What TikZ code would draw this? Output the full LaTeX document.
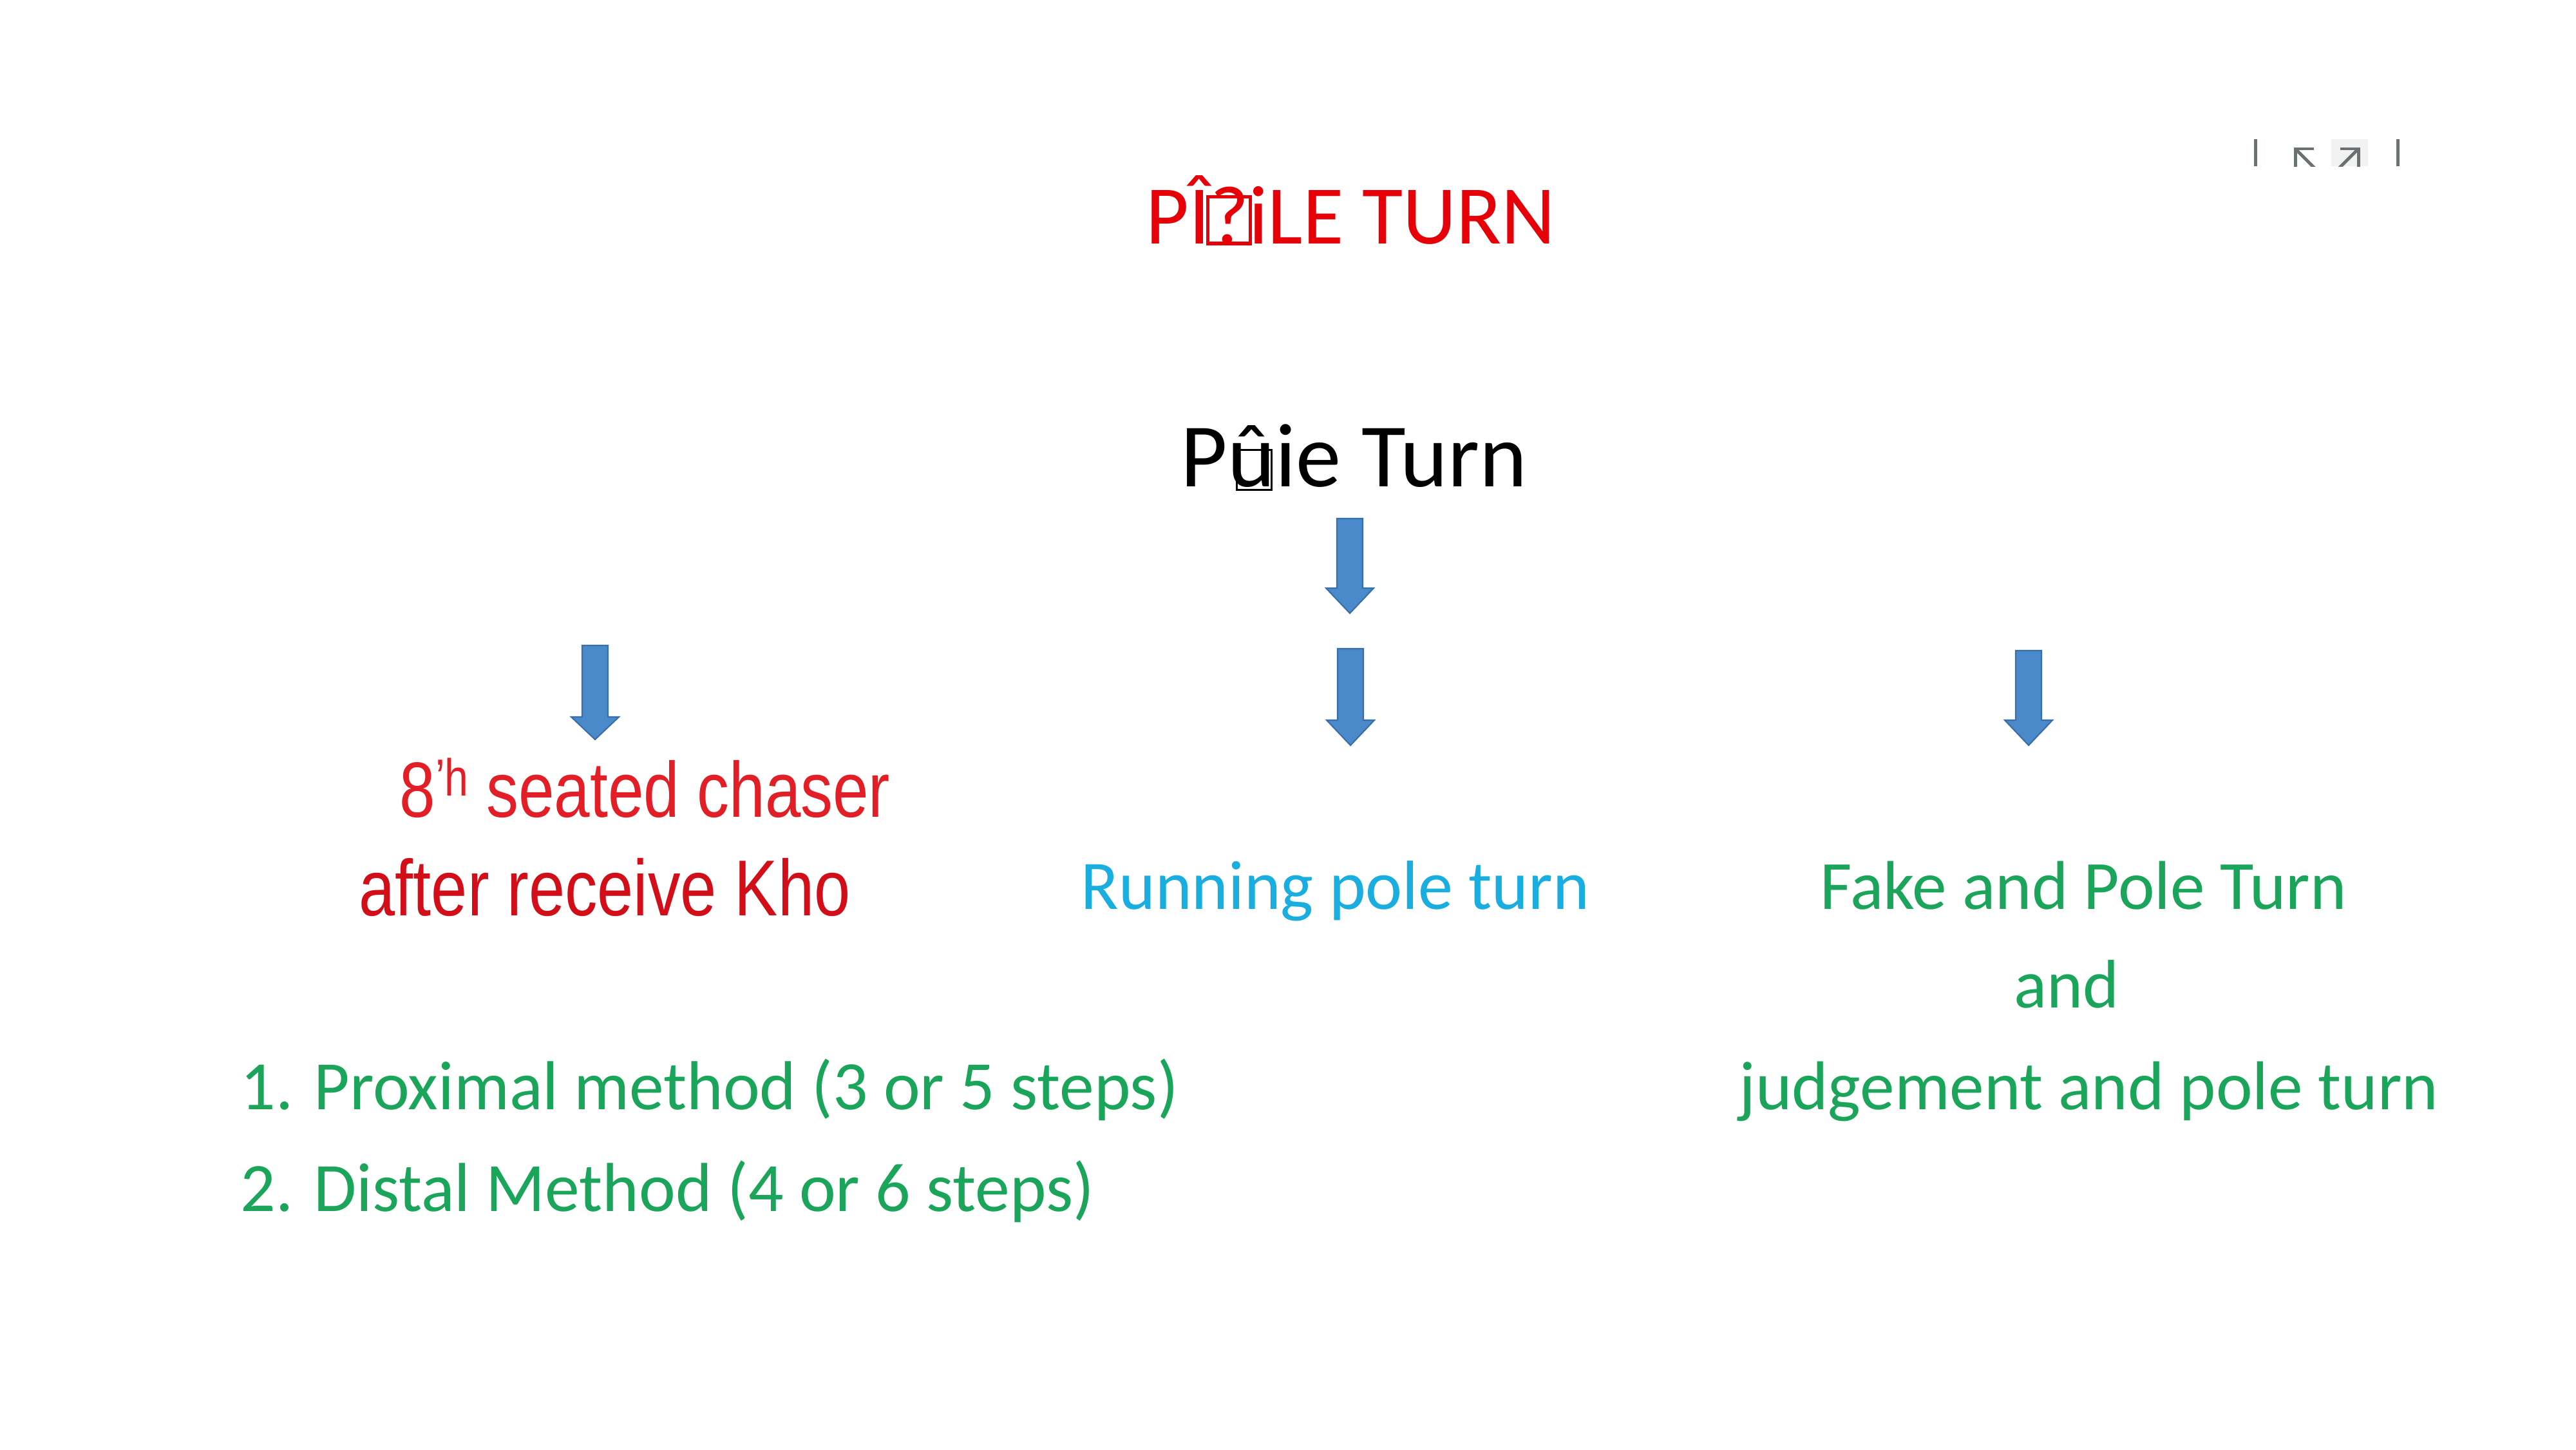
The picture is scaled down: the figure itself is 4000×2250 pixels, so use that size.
\documentclass[tikz,border=0pt]{standalone}
\usepackage{fontspec}
\setmainfont{Carlito}
\newfontfamily\arialn[FakeStretch=0.82]{Liberation Sans}
\definecolor{titlered}{HTML}{E60008}
\definecolor{chaserred}{HTML}{E21F26}
\definecolor{khored}{HTML}{D20F19}
\definecolor{runblue}{HTML}{1AADDF}
\definecolor{textgreen}{HTML}{1AA55A}
\definecolor{arrowfill}{HTML}{4A8ACB}
\definecolor{arrowedge}{HTML}{3A6EA6}
\definecolor{icongray}{HTML}{6B7172}
\newcommand\titlebox{\makebox[0pt][l]{\hspace{-0.05em}\raisebox{0.02em}{\setlength{\fboxsep}{0pt}\setlength{\fboxrule}{0.04em}\fbox{\rule{0pt}{0.52em}\hspace{0.47em}}}}}
\newcommand\subbox{\makebox[0pt][l]{\hspace{0.09em}\raisebox{-0.03em}{\setlength{\fboxsep}{0pt}\setlength{\fboxrule}{0.022em}\fbox{\rule{0pt}{0.42em}\hspace{0.36em}}}}}
\newcommand\BlkArrow[5]{%
  \coordinate (#1) at (#2,#3);
  \filldraw[blkarrow] (#2-20,#3) -- (#2+20,#3) -- (#2+20,#4) -- (#2+37,#4) -- (#2,#5) -- (#2-37,#4) -- (#2-20,#4) -- cycle;}
\begin{document}
\begin{tikzpicture}[x=0.01cm,y=-0.01cm,
  txt/.style={inner sep=0pt, anchor=base west},
  blkarrow/.style={fill=arrowfill, draw=arrowedge, line width=0.6pt, line join=miter},
  icon/.style={draw=icongray, line width=1.4pt}]
\useasboundingbox[fill=white] (0,0) rectangle (4000,2250);

% top-right icons
\fill[gray!10] (3620,216) rectangle (3677,258);
\draw[icon] (3502,216) -- (3502,258);
\draw[icon] (3723,216) -- (3723,258);
\begin{scope}
\clip (3540,220) rectangle (3700,258);
\draw[icon] (3593,231) -- (3564,231) -- (3564,262);
\draw[icon] (3564,231) -- (3600,267);
\draw[icon] (3634,231) -- (3662,231) -- (3662,262);
\draw[icon] (3662,231) -- (3626,267);
\end{scope}

% titles
\node[txt, text=titlered, font=\fontsize{36.8pt}{40pt}\selectfont] (title) at (1779,378) {PÎ\titlebox?iLE TURN};
\node[txt, font=\fontsize{40pt}{44pt}\selectfont] (sub) at (1833,755) {P\subbox ûie Turn};

% arrows
\BlkArrow{a0}{2096}{805}{913}{952}
\BlkArrow{a1}{924}{1002}{1113}{1148}
\BlkArrow{a2}{2097}{1007}{1118}{1157}
\BlkArrow{a3}{3150}{1010}{1118}{1157}

% left column
\node[txt, text=chaserred, font=\arialn\fontsize{34.6pt}{40pt}\selectfont] (chaser) at (620,1268) {8\raisebox{0.265em}{\fontsize{23pt}{26pt}\selectfont ’h} seated chaser};
\node[txt, text=khored, font=\arialn\fontsize{35pt}{40pt}\selectfont] (kho) at (557,1421) {after receive Kho};

% middle
\node[txt, text=runblue, font=\fontsize{30.7pt}{36pt}\selectfont] (run) at (1678,1411) {Running pole turn};

% right column
\node[txt, text=textgreen, font=\fontsize{30.5pt}{36pt}\selectfont] (fake) at (2826,1411) {Fake and Pole Turn};
\node[inner sep=0pt, anchor=base, text=textgreen, font=\fontsize{30.3pt}{36pt}\selectfont] (and) at (3209,1564) {and};
\node[txt, text=textgreen, font=\fontsize{30.5pt}{36pt}\selectfont] (judge) at (2700,1722) {judgement and pole turn};

% list
\node[txt, text=textgreen, font=\fontsize{30.6pt}{36pt}\selectfont] (item1) at (373,1722) {1. Proximal method (3 or 5 steps)};
\node[txt, text=textgreen, font=\fontsize{30.6pt}{36pt}\selectfont] (item2) at (373,1880) {2. Distal Method (4 or 6 steps)};
\end{tikzpicture}
\end{document}
